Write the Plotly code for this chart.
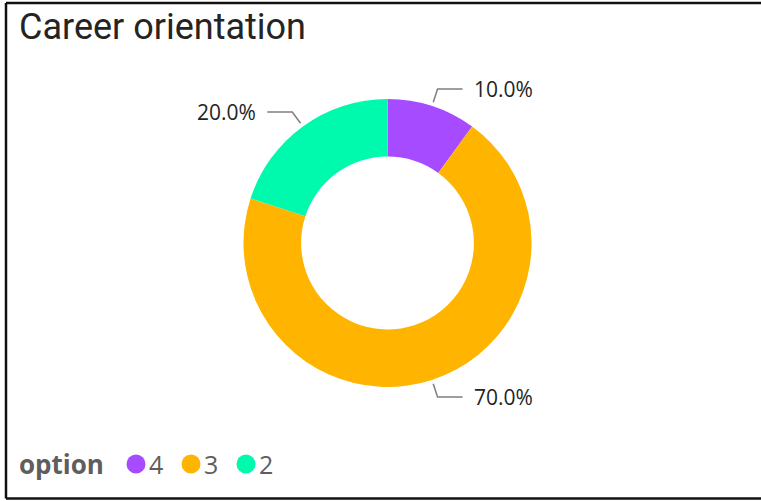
import math
import plotly.graph_objects as go

# ---- data ----
categories = ["4", "3", "2"]
values = [10.0, 70.0, 20.0]
colors = ["#A64BFF", "#FFB400", "#00FAAD"]
title_text = "Career orientation"
legend_title = "option"

W, H = 761, 501
cx, cy, R = 387.5, 243.0, 144.0  # donut centre / radius in screen px


def px2p(x, y):
    return x / W, 1 - y / H


fig = go.Figure()
d0 = px2p(cx - R, cy + R)
d1 = px2p(cx + R, cy - R)
fig.add_trace(go.Pie(
    labels=categories, values=values, sort=False, direction="clockwise",
    rotation=0, hole=0.6, textinfo="none", showlegend=False,
    marker=dict(colors=colors, line=dict(width=0)),
    domain=dict(x=[d0[0], d1[0]], y=[d0[1], d1[1]]),
))

shapes = []
annotations = []
total = sum(values)
cum = 0.0
for cat, v in zip(categories, values):
    mid = (cum + v / 2) / total * 2 * math.pi
    cum += v
    s, c = math.sin(mid), math.cos(mid)
    x1, y1 = cx + 148 * s, cy - 148 * c
    x2, y2 = cx + 162 * s, cy - 162 * c
    d = 1 if s >= 0 else -1
    x3 = x2 + 25 * d
    pts = [px2p(x1, y1), px2p(x2, y2), px2p(x3, y2)]
    path = "M {} {} L {} {} L {} {}".format(pts[0][0], pts[0][1], pts[1][0], pts[1][1], pts[2][0], pts[2][1])
    shapes.append(dict(type="path", xref="paper", yref="paper", path=path,
                       line=dict(color="#7F7F7F", width=1.5)))
    tx, ty = px2p(x3 + 9 * d, y2)
    annotations.append(dict(xref="paper", yref="paper", x=tx, y=ty,
                            text=f"{v / total * 100:.1f}%", showarrow=False,
                            xanchor="left" if d > 0 else "right", yanchor="middle",
                            font=dict(family="Open Sans", size=21, color="#252423")))

# title
tx, ty = px2p(17, 27)
annotations.append(dict(xref="paper", yref="paper", x=tx, y=ty, text=title_text,
                        showarrow=False, xanchor="left", yanchor="middle",
                        font=dict(family="Roboto", size=36, color="#252423")))

# legend (manual, circles)
ly = 464
lx, lyp = px2p(17, ly)
annotations.append(dict(xref="paper", yref="paper", x=lx, y=lyp, text="<b>" + legend_title + "</b>",
                        showarrow=False, xanchor="left", yanchor="middle",
                        font=dict(family="Open Sans", size=26, color="#605E5C")))
for i, (cat, col) in enumerate(zip(categories, colors)):
    ccx = 136 + 55 * i
    a0 = px2p(ccx - 9.5, ly - 9.5)
    a1 = px2p(ccx + 9.5, ly + 9.5)
    shapes.append(dict(type="circle", xref="paper", yref="paper",
                       x0=a0[0], y0=a1[1], x1=a1[0], y1=a0[1],
                       fillcolor=col, line=dict(width=0)))
    tx, ty = px2p(ccx + 11, ly)
    annotations.append(dict(xref="paper", yref="paper", x=tx, y=ty, text=cat,
                            showarrow=False, xanchor="left", yanchor="middle",
                            font=dict(family="Open Sans", size=25, color="#605E5C")))

# frame
for (xa, ya, xb, yb) in [(6, 3, 800, 3), (6, 3, 6, 498.5), (6, 498.5, 800, 498.5)]:
    p0, p1 = px2p(xa, ya), px2p(xb, yb)
    shapes.append(dict(type="line", xref="paper", yref="paper",
                       x0=p0[0], y0=p0[1], x1=p1[0], y1=p1[1],
                       line=dict(color="#111111", width=2.5)))

fig.update_layout(
    width=W, height=H, margin=dict(l=0, r=0, t=0, b=0),
    paper_bgcolor="white", plot_bgcolor="white",
    shapes=shapes, annotations=annotations, showlegend=False,
)
fig.write_html("out.html", config={"displayModeBar": False},
               post_script="document.body.style.margin='0';document.body.style.overflow='hidden';")
